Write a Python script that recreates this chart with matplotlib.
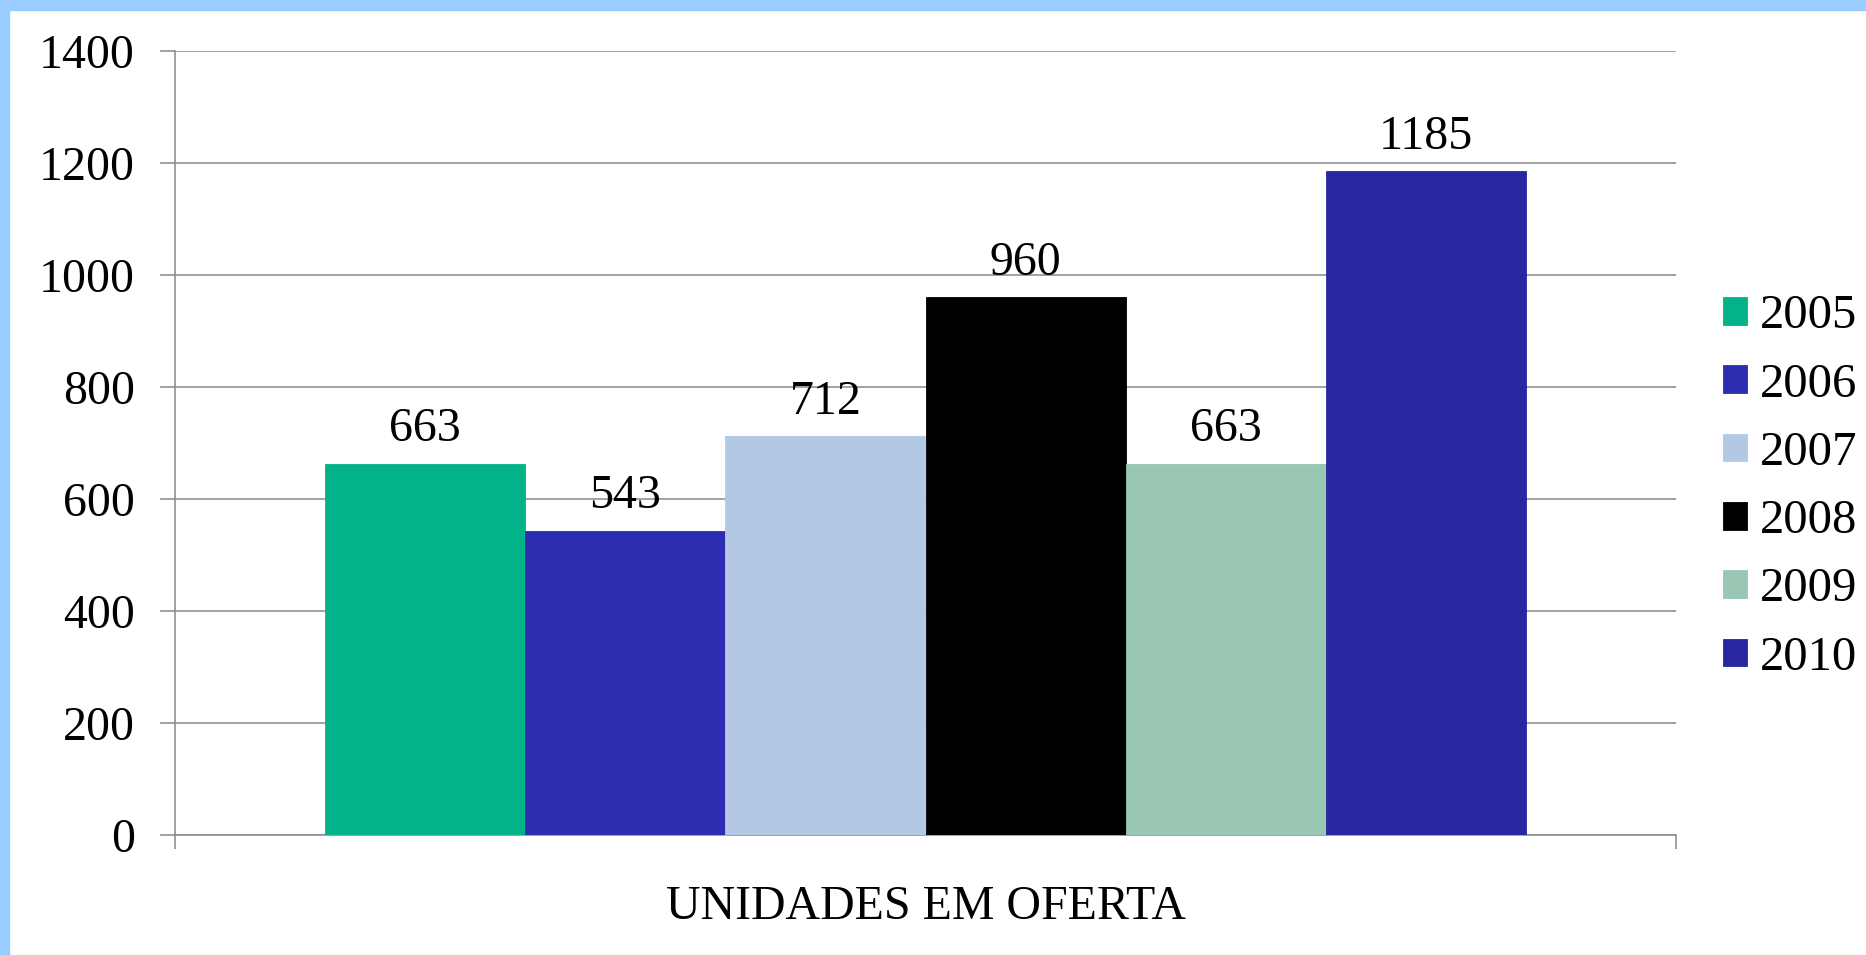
import matplotlib.pyplot as plt
from matplotlib.patches import Rectangle

years = ['2005', '2006', '2007', '2008', '2009', '2010']
values = [663, 543, 712, 960, 663, 1185]
colors = ['#02B389', '#2D2DB2', '#B3C8E3', '#000000', '#99C7B3', '#2727A1']
category = 'UNIDADES EM OFERTA'
yticks = [0, 200, 400, 600, 800, 1000, 1200, 1400]

plt.rcParams['font.family'] = ['Liberation Serif', 'DejaVu Serif']
FS = 34.5

fig = plt.figure(figsize=(18.66, 9.55), dpi=100)
ax = fig.add_axes([175 / 1866, 1 - 835 / 955, (1676 - 175) / 1866, (835 - 51) / 955])

grid_col = '#878787'
bars = []
for i, (yr, v, c) in enumerate(zip(years, values, colors)):
    b = ax.bar(i, v, width=1.0, color=c, edgecolor=c, linewidth=0.6, label=yr, zorder=3)
    ax.bar_label(b, labels=[str(v)], padding=9, fontsize=FS)
    bars.append(b)

ax.set_xlim(-1.25, len(values) - 1 + 1.25)
ax.set_ylim(0, 1400)
ax.set_yticks(yticks)
ax.set_xticks([-1.25, len(values) - 1 + 1.25])
ax.set_xticklabels(['', ''])
ax.yaxis.grid(True, color=grid_col, linewidth=1.1, zorder=0)
ax.set_axisbelow(True)
ax.tick_params(axis='y', direction='out', length=11, width=1.1, color=grid_col,
               labelsize=FS, pad=18)
ax.tick_params(axis='x', direction='out', length=10, width=1.1, color=grid_col)
for s in ['top', 'right']:
    ax.spines[s].set_visible(False)
for s in ['left', 'bottom']:
    ax.spines[s].set_color(grid_col)
    ax.spines[s].set_linewidth(1.1)

fig.text((175 + 1676) / 2 / 1866, 1 - 907 / 955, category, ha='center', va='center', fontsize=FS)

fig.legend(handles=[b[0] for b in bars], labels=years, loc='center left',
           bbox_to_anchor=(1723 / 1866, 1 - 487 / 955), frameon=False, fontsize=35,
           handlelength=0.5, handleheight=0.5, handletextpad=0.25,
           labelspacing=0.5, borderpad=0, borderaxespad=0)

# light blue frame on top and left
fig.patches.append(Rectangle((0, 1 - 10 / 955), 1, 10 / 955, transform=fig.transFigure,
                             color='#99CCFF', zorder=10))
fig.patches.append(Rectangle((0, 0), 9 / 1866, 1, transform=fig.transFigure,
                             color='#99CCFF', zorder=10))

fig.savefig('out.png', dpi=100)
